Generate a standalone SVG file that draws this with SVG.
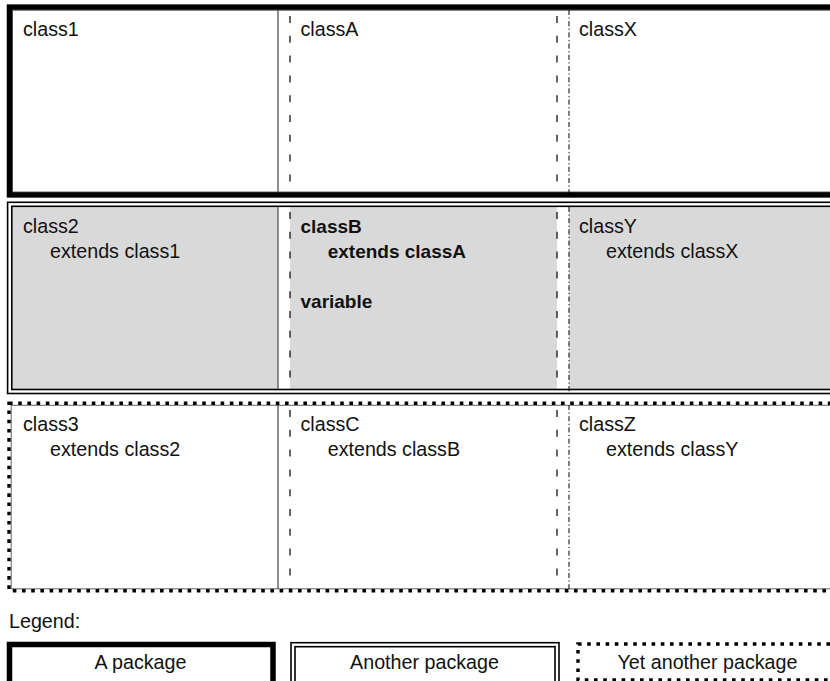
<svg xmlns="http://www.w3.org/2000/svg" width="830" height="681" viewBox="0 0 830 681">
<style>
text{font-family:"Liberation Sans",Arial,sans-serif;font-size:19.7px;fill:#111}
.b{font-weight:bold;font-size:19px}
.thick{fill:none;stroke:#000;stroke-width:5.5}
.dbl{fill:none;stroke:#000;stroke-width:1.6}
.dot{fill:none;stroke:#000;stroke-width:3.4;stroke-dasharray:3.6 5.6}
.thin{fill:none;stroke:#666;stroke-width:1}
.solid{stroke:#444;stroke-width:1.2}
.dash{stroke:#000;stroke-width:1.2;stroke-dasharray:7 12.8}
.dd{stroke:#000;stroke-width:1;stroke-dasharray:5 2.5 1.2 2.5}
.grey{fill:#d9d9d9}
.mid{text-anchor:middle}
</style>
<rect width="830" height="681" fill="#fff"/>

<g id="package1">
  <rect class="thin" x="12.5" y="10.3" width="830" height="181.7"/>
  <rect class="thick" x="9.5" y="7.1" width="830" height="187.8"/>
  <line class="solid" x1="278" y1="10" x2="278" y2="192"/>
  <line class="dash" x1="290" y1="16" x2="290" y2="192"/>
  <line class="dash" x1="557" y1="16" x2="557" y2="192"/>
  <line class="dd" x1="569" y1="10" x2="569" y2="197"/>
  <g id="class1"><text x="23" y="36">class1</text></g>
  <g id="classA"><text x="300.5" y="36">classA</text></g>
  <g id="classX"><text x="579" y="36">classX</text></g>
</g>

<g id="package2">
  <rect class="grey" x="12.5" y="207" width="265" height="182.5"/>
  <rect class="grey" x="290" y="207" width="267" height="182.5"/>
  <rect class="grey" x="569" y="207" width="261" height="182.5"/>
  <rect class="dbl" x="7.6" y="202.3" width="830" height="191.2"/>
  <rect class="dbl" x="11.8" y="206.3" width="830" height="183.2"/>
  <line class="solid" x1="278" y1="207" x2="278" y2="389"/>
  <line class="dash" x1="290" y1="212" x2="290" y2="389"/>
  <line class="dash" x1="557" y1="212" x2="557" y2="389"/>
  <line class="dd" x1="569" y1="207" x2="569" y2="393"/>
  <g id="class2"><text x="23" y="233">class2</text><text x="50" y="258">extends class1</text></g>
  <g id="classB"><text class="b" x="300.5" y="233">classB</text><text class="b" x="327.7" y="258">extends classA</text><text class="b" x="300.5" y="307.5">variable</text></g>
  <g id="classY"><text x="579" y="233">classY</text><text x="606" y="258">extends classX</text></g>
</g>

<g id="package3">
  <rect class="thin" x="11.2" y="405.3" width="830" height="183.5"/>
  <rect class="dot" x="9" y="403.3" width="830" height="187.4"/>
  <line class="solid" x1="278" y1="405" x2="278" y2="589"/>
  <line class="dash" x1="290" y1="410" x2="290" y2="589"/>
  <line class="dash" x1="557" y1="410" x2="557" y2="589"/>
  <line class="dd" x1="569" y1="405" x2="569" y2="592"/>
  <g id="class3"><text x="23" y="431">class3</text><text x="50" y="456">extends class2</text></g>
  <g id="classC"><text x="300.5" y="431">classC</text><text x="327.7" y="456">extends classB</text></g>
  <g id="classZ"><text x="579" y="431">classZ</text><text x="606" y="456">extends classY</text></g>
</g>

<g id="connectors"></g>

<g id="legend">
  <text x="9" y="628">Legend:</text>
  <g id="legend-package">
    <rect class="thick" x="9.5" y="644.5" width="263.5" height="45"/>
    <text class="mid" x="140.5" y="669">A package</text>
  </g>
  <g id="legend-another">
    <rect class="dbl" x="291" y="642.7" width="268" height="45"/>
    <rect class="dbl" x="295" y="646.7" width="260" height="45"/>
    <text class="mid" x="424.5" y="669">Another package</text>
  </g>
  <g id="legend-yet">
    <rect class="dot" x="578" y="644" width="300" height="36"/>
    <text class="mid" x="707.5" y="669">Yet another package</text>
  </g>
</g>
</svg>
